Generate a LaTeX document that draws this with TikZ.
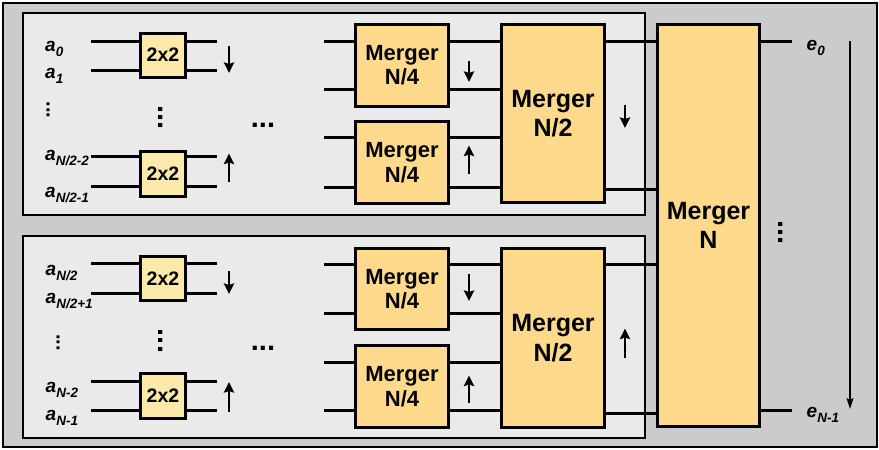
\documentclass[tikz,border=0pt]{standalone}
\usepackage{fontspec}
\setmainfont{Liberation Sans}
\usetikzlibrary{arrows.meta}
\definecolor{outerg}{HTML}{CBCBCB}
\definecolor{panelg}{HTML}{EAEAEA}
\definecolor{mergc}{HTML}{FFD98C}
\definecolor{swc}{HTML}{FDE9AA}
\newcommand\sublab[2]{\textbf{\textit{#1\raisebox{-5pt}{\fontsize{13.5}{13.5}\selectfont #2}}}}
\begin{document}
\begin{tikzpicture}[x=1pt,y=-1pt,
  wire/.style={line width=3pt},
  swbox/.style={draw, line width=3pt, fill=swc, minimum width=45pt, minimum height=44pt, inner sep=0pt, font=\bfseries\fontsize{19.5}{21}\selectfont},
  mbox/.style={draw, line width=3pt, fill=mergc, inner sep=0pt, align=center},
  mfour/.style={mbox, minimum width=93pt, minimum height=82pt, font=\bfseries\fontsize{22}{24.3}\selectfont},
  mtwo/.style={mbox, minimum width=103pt, font=\bfseries\fontsize{25}{29.4}\selectfont},
  dirarrow/.style={line width=2.8pt, -{Stealth[length=10.5pt,width=10pt,inset=1.5pt]}},
  lab/.style={inner sep=0pt, anchor=base west, font=\fontsize{19}{19}\selectfont},
  hdots/.style={inner sep=0pt, anchor=base, font=\bfseries\fontsize{29}{29}\selectfont},
  vdotsbig/.style={inner sep=0pt, anchor=base, rotate=-90, font=\bfseries\fontsize{29}{29}\selectfont},
  vdotssmall/.style={inner sep=0pt, anchor=base, rotate=-90, font=\bfseries\fontsize{20}{20}\selectfont},
  panel/.style={draw, line width=1.3pt, fill=panelg}
]
\useasboundingbox (0,0) rectangle (879,450);
% background and panels
\draw[line width=1.3pt, fill=outerg] (3,3) rectangle (877,447);
\draw[panel] (23,13) rectangle (645,215);
\draw[panel] (23,236) rectangle (645,438);

% ---------- 2x2 switches ----------
\node[swbox] (s1) at (163,55) {2x2};
\node[swbox, minimum height=45pt] (s2) at (163,173.5) {2x2};
\node[swbox] (s3) at (163,278.5) {2x2};
\node[swbox, minimum height=45pt] (s4) at (163,396) {2x2};

% ---------- Mergers N/4 ----------
\node[mfour] (m4a) at (402,65.5) {Merger\\N/4};
\node[mfour] (m4b) at (402,162.5) {Merger\\N/4};
\node[mfour, minimum height=81pt] (m4c) at (402,289) {Merger\\N/4};
\node[mfour] (m4d) at (402,386.5) {Merger\\N/4};

% ---------- Mergers N/2 ----------
\node[mtwo, minimum height=178pt] (m2a) at (553,113.5) {Merger\\N/2};
\node[mtwo, minimum height=179pt] (m2b) at (553,338) {Merger\\N/2};

% ---------- Merger N ----------
\node[mtwo, minimum width=102pt, minimum height=402pt] (mN) at (708.5,225.5) {Merger\\N};

% ---------- wires at switches ----------
\coordinate (in1a) at (91,41);  \coordinate (out1a) at (217,41);
\coordinate (in1b) at (91,70);  \coordinate (out1b) at (217,70);
\coordinate (in2a) at (91,156); \coordinate (out2a) at (217,156);
\coordinate (in2b) at (91,186); \coordinate (out2b) at (217,186);
\coordinate (in3a) at (91,263); \coordinate (out3a) at (217,263);
\coordinate (in3b) at (91,293); \coordinate (out3b) at (217,293);
\coordinate (in4a) at (91,381); \coordinate (out4a) at (217,381);
\coordinate (in4b) at (91,410); \coordinate (out4b) at (217,410);
\foreach \k/\s in {1a/s1,1b/s1,2a/s2,2b/s2,3a/s3,3b/s3,4a/s4,4b/s4}{
  \draw[wire] (in\k) -- (in\k -| \s.west);
  \draw[wire] (\s.east |- out\k) -- (out\k);
}

% ---------- wires at merger N/4 ----------
\foreach \m/\t/\ya/\yb in {m4a/m2a/41/89, m4b/m2a/137/187, m4c/m2b/264/313, m4d/m2b/362/410}{
  \draw[wire] (324,\ya) -- (\m.west |- 0,\ya);
  \draw[wire] (324,\yb) -- (\m.west |- 0,\yb);
  \draw[wire] (\m.east |- 0,\ya) -- (\t.west |- 0,\ya);
  \draw[wire] (\m.east |- 0,\yb) -- (\t.west |- 0,\yb);
}
% ---------- wires N/2 -> N ----------
\foreach \m/\y in {m2a/41, m2a/189, m2b/264, m2b/413}{
  \draw[wire] (\m.east |- 0,\y) -- (mN.west |- 0,\y);
}
% ---------- outputs ----------
\coordinate (o0) at (792,41);
\coordinate (o1) at (792,410);
\draw[wire] (mN.east |- o0) -- (o0);
\draw[wire] (mN.east |- o1) -- (o1);
\node[lab] (e0) at (806.5,50) {\sublab{e}{0}};
\node[lab] (e1) at (806.5,417) {\sublab{e}{N-1}};
\coordinate (ea) at (850,41);
\coordinate (eb) at (850,409);
\draw[line width=1.4pt, -{Stealth[length=11pt,width=7pt,inset=2pt]}] (ea) -- (eb);

% ---------- input labels ----------
\node[lab] (la0) at (45,51) {\sublab{a}{0}};
\node[lab] (la1) at (45,78) {\sublab{a}{1}};
\node[lab] (la2) at (45,160) {\sublab{a}{N/2-2}};
\node[lab] (la3) at (45,197) {\sublab{a}{N/2-1}};
\node[lab] (la4) at (45.5,275) {\sublab{a}{N/2}};
\node[lab] (la5) at (45.5,303) {\sublab{a}{N/2+1}};
\node[lab] (la6) at (45.5,392) {\sublab{a}{N-2}};
\node[lab] (la7) at (45.5,420) {\sublab{a}{N-1}};

% ---------- direction arrows ----------
\draw[dirarrow] (229,46) -- (229,73);
\draw[dirarrow] (229,182) -- (229,153.5);
\draw[dirarrow] (229,271) -- (229,294);
\draw[dirarrow] (229,412) -- (229,382);
\draw[dirarrow] (469,61) -- (469,82);
\draw[dirarrow] (469,174) -- (469,145.5);
\draw[dirarrow] (469,274) -- (469,301);
\draw[dirarrow] (469,403) -- (469,375.5);
\draw[dirarrow] (625,105) -- (625,128);
\draw[dirarrow] (625,358) -- (625,328.5);

% ---------- dots ----------
\node[hdots] (hd1) at (263,127) {...};
\node[hdots] (hd2) at (263,350) {...};
\node[vdotssmall] (vd1) at (46.6,110) {...};
\node[vdotssmall] (vd2) at (56.6,342.5) {...};
\node[vdotsbig] (vd3) at (158,117.5) {...};
\node[vdotsbig] (vd4) at (158,341) {...};
\node[vdotsbig] (vd5) at (778,232.5) {...};
\end{tikzpicture}
\end{document}
